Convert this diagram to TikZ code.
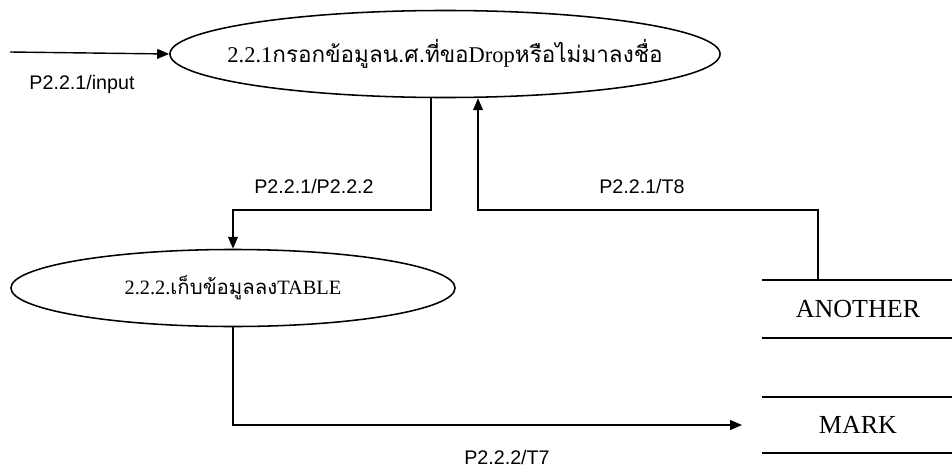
\documentclass[tikz,border=0pt]{standalone}
\usepackage{fontspec}
\setmainfont{Liberation Serif}
\newfontfamily\thaifont[Script=Thai]{Loma}
\newfontfamily\flowfont{Liberation Sans}
\usetikzlibrary{arrows.meta,positioning,shapes.geometric}
\begin{document}
\begin{tikzpicture}[x=0.025cm,y=-0.025cm,
  proc/.style={draw,ellipse,line width=1.1pt,inner sep=0pt},
  flow/.style={line width=1pt,-{Triangle[length=8.5pt,width=7pt]}},
  flowlabel/.style={font=\flowfont\fontsize{14}{16}\selectfont},
  storeline/.style={line width=1.1pt},
  storelabel/.style={font=\fontsize{18.5}{21}\selectfont}]
\useasboundingbox (0,0) rectangle (952,467);

% Processes (text kept in a zero-width box so the ellipse size is fixed)
\node[proc,minimum width=13.75cm,minimum height=2.175cm,
  font=\fontsize{16}{18}\selectfont] (p1) at (445,54)
  {\makebox[0pt]{2.2.1{\thaifont กรอกข้อมูลน.ศ.ที่ขอ}Drop{\thaifont หรือไม่มาลงชื่อ}}};
\node[proc,minimum width=11.1cm,minimum height=1.925cm,
  font=\fontsize{14.5}{17}\selectfont] (p2) at (233,288)
  {\makebox[0pt]{2.2.2.{\thaifont เก็บข้อมูลลง}TABLE}};

% Data stores
\draw[storeline] (762,280) -- (952,280);
\draw[storeline] (762,338) -- (952,338);
\draw[storeline] (762,397) -- (952,397);
\draw[storeline] (762,453) -- (952,453);
\node[storelabel] (another) at (858,309) {ANOTHER};
\node[storelabel] (mark) at (858,425) {MARK};
\coordinate (anotherTop) at (818,280);
\coordinate (markIn) at (742,425);
\coordinate (src) at (10,52);

% Data flows
\draw[flow] (src) -- (p1.west);
\draw[flow] (431,0 |- p1.south) -- (431,210) -| (p2.north);
\draw[flow] (anotherTop) |- (478,210) -- (478,0 |- p1.south);
\draw[flow] (p2.south) -- (233,425) -- (markIn);

% Flow labels
\node[flowlabel] (l1) at (82,84) {P2.2.1/input};
\node[flowlabel] (l2) at (314,186) {P2.2.1/P2.2.2};
\node[flowlabel] (l3) at (642,186) {P2.2.1/T8};
\node[flowlabel] (l4) at (507,457) {P2.2.2/T7};
\end{tikzpicture}
\end{document}
